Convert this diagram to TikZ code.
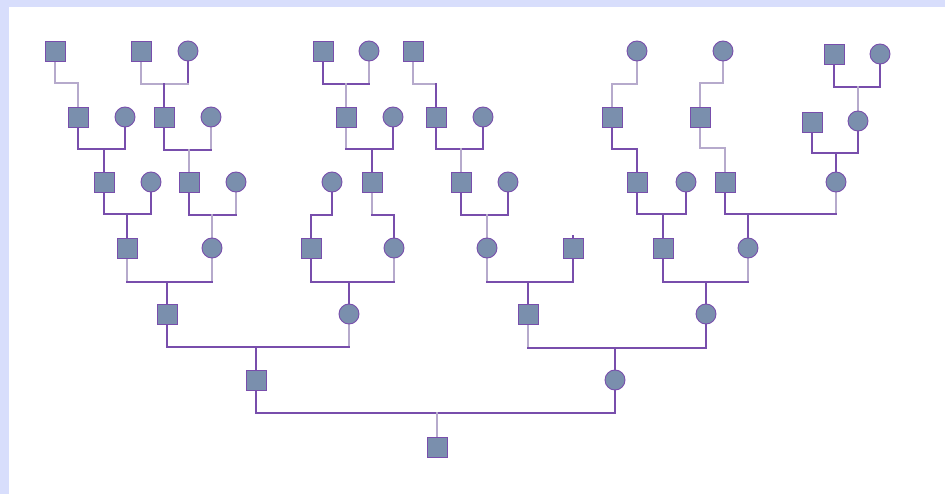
\documentclass[tikz,border=0pt]{standalone}
\usetikzlibrary{backgrounds}
\definecolor{framecol}{RGB}{216,222,252}
\definecolor{nodefill}{RGB}{122,143,173}
\definecolor{pur}{RGB}{120,78,172}
\definecolor{gry}{RGB}{182,170,204}
\tikzset{
 male/.style={rectangle,draw=pur,line width=0.9pt,fill=nodefill,minimum width=20pt,minimum height=20pt,inner sep=0pt},
 female/.style={circle,draw=pur,line width=0.9pt,fill=nodefill,minimum size=20pt,inner sep=0pt},
 P/.style={draw=pur,line width=1.9pt,line cap=rect},
 G/.style={draw=gry,line width=1.9pt,line cap=rect},
}
% father, mother, child, bar y, father style, mother style, bar style, child style
\newcommand\pcouple[8]{%
 \draw[#5] (#1.south) -- (#1.south |- 0,#4);
 \draw[#6] (#2.south) -- (#2.south |- 0,#4);
 \draw[#7] (#1.south |- 0,#4) -- (#2.south |- 0,#4);
 \draw[#8] (#3.north |- 0,#4) -- (#3.north);
}
% parent, child, bar y, parent style, bar style, child style
\newcommand\psingle[6]{%
 \draw[#4] (#1.south) -- (#1.south |- 0,#3);
 \draw[#5] (#1.south |- 0,#3) -- (#2.north |- 0,#3);
 \draw[#6] (#2.north |- 0,#3) -- (#2.north);
}
\begin{document}
\begin{tikzpicture}[x=1pt,y=-1pt]
\useasboundingbox (0,0) rectangle (945,494);
% row 1
\node[male]   (a1)  at (55,51) {};
\node[male]   (a2)  at (141,51) {};
\node[female] (a3)  at (188,51) {};
\node[male]   (a4)  at (323,51) {};
\node[female] (a5)  at (369,51) {};
\node[male]   (a6)  at (413,51) {};
\node[female] (a7)  at (637,51) {};
\node[female] (a8)  at (723,51) {};
\node[male]   (a9)  at (834,54) {};
\node[female] (a10) at (880,54) {};
% row 2
\node[male]   (b1)  at (78,117) {};
\node[female] (b2)  at (125,117) {};
\node[male]   (b3)  at (164,117) {};
\node[female] (b4)  at (211,117) {};
\node[male]   (b5)  at (346,117) {};
\node[female] (b6)  at (393,117) {};
\node[male]   (b7)  at (436,117) {};
\node[female] (b8)  at (483,117) {};
\node[male]   (b9)  at (612,117) {};
\node[male]   (b10) at (700,117) {};
\node[male]   (b11) at (812,122) {};
\node[female] (b12) at (858,121) {};
% row 3
\node[male]   (c1)  at (104,182) {};
\node[female] (c2)  at (151,182) {};
\node[male]   (c3)  at (189,182) {};
\node[female] (c4)  at (236,182) {};
\node[female] (c5)  at (332,182) {};
\node[male]   (c6)  at (372,182) {};
\node[male]   (c7)  at (461,182) {};
\node[female] (c8)  at (508,182) {};
\node[male]   (c9)  at (637,182) {};
\node[female] (c10) at (686,182) {};
\node[male]   (c11) at (725,182) {};
\node[female] (c12) at (836,182) {};
% row 4
\node[male]   (d1) at (127,248) {};
\node[female] (d2) at (212,248) {};
\node[male]   (d3) at (311,248) {};
\node[female] (d4) at (394,248) {};
\node[female] (d5) at (487,248) {};
\node[male]   (d6) at (573,248) {};
\node[male]   (d7) at (663,248) {};
\node[female] (d8) at (748,248) {};
% row 5
\node[male]   (e1) at (167,314) {};
\node[female] (e2) at (349,314) {};
\node[male]   (e3) at (528,314) {};
\node[female] (e4) at (706,314) {};
% row 6
\node[male]   (f1) at (256,380) {};
\node[female] (f2) at (615,380) {};
% row 7
\node[male]   (g1) at (437,447) {};

\begin{pgfonlayer}{background}
\fill[framecol] (0,0) rectangle (945,494);
\fill[white] (9,7) rectangle (945,494);
% row 1 -> 2
\psingle{a1}{b1}{83}{G}{G}{G}
\pcouple{a2}{a3}{b3}{84}{G}{P}{G}{P}
\pcouple{a4}{a5}{b5}{84}{P}{G}{P}{G}
\psingle{a6}{b7}{84}{G}{G}{P}
\psingle{a7}{b9}{84}{G}{G}{G}
\psingle{a8}{b10}{83}{G}{G}{G}
\pcouple{a9}{a10}{b12}{87}{P}{P}{P}{G}
% row 2 -> 3
\pcouple{b1}{b2}{c1}{149}{P}{P}{P}{P}
\pcouple{b3}{b4}{c3}{150}{P}{G}{P}{G}
\pcouple{b5}{b6}{c6}{149}{G}{P}{P}{P}
\pcouple{b7}{b8}{c7}{149}{P}{P}{P}{G}
\psingle{b9}{c9}{149}{P}{P}{P}
\psingle{b10}{c11}{148}{G}{G}{G}
\pcouple{b11}{b12}{c12}{153}{P}{P}{P}{P}
% row 3 -> 4
\pcouple{c1}{c2}{d1}{214}{P}{P}{P}{P}
\pcouple{c3}{c4}{d2}{215}{P}{G}{P}{G}
\psingle{c5}{d3}{215}{P}{P}{P}
\psingle{c6}{d4}{215}{G}{P}{P}
\pcouple{c7}{c8}{d5}{215}{P}{P}{P}{G}
\pcouple{c9}{c10}{d7}{214}{P}{P}{P}{P}
\pcouple{c11}{c12}{d8}{214}{P}{G}{P}{P}
\draw[P] (d6.north) -- ++(0,-2);
% row 4 -> 5
\pcouple{d1}{d2}{e1}{282}{G}{G}{P}{P}
\pcouple{d3}{d4}{e2}{282}{P}{G}{P}{P}
\pcouple{d5}{d6}{e3}{282}{G}{P}{P}{P}
\pcouple{d7}{d8}{e4}{282}{P}{G}{P}{P}
% row 5 -> 6
\pcouple{e1}{e2}{f1}{347}{P}{G}{P}{P}
\pcouple{e3}{e4}{f2}{348}{G}{P}{P}{P}
% row 6 -> 7
\pcouple{f1}{f2}{g1}{413}{P}{P}{P}{G}
\end{pgfonlayer}
\end{tikzpicture}
\end{document}
